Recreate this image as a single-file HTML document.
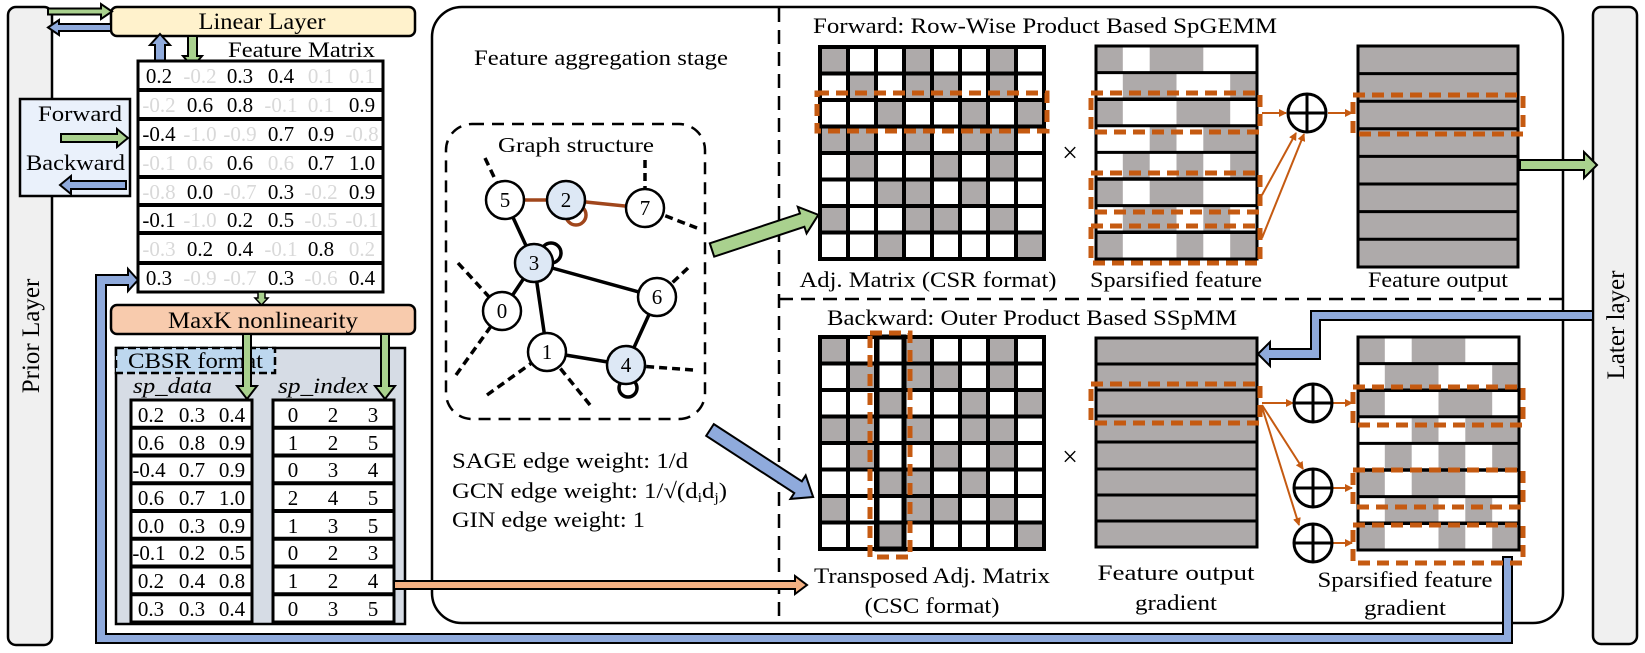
<!DOCTYPE html>
<html><head><meta charset="utf-8"><style>
html,body{margin:0;padding:0;background:#fff;}
svg{display:block;}
text{font-family:"Liberation Serif",serif;fill:#000;}
</style></head><body>
<svg width="1645" height="653" viewBox="0 0 1645 653" xmlns="http://www.w3.org/2000/svg">
<defs>
<marker id="oa" markerWidth="8" markerHeight="8" refX="7" refY="4" orient="auto" markerUnits="userSpaceOnUse" viewBox="0 0 8 8">
<path d="M0,0 L8,4 L0,8 z" fill="#c55a11"/></marker>
<g id="adj">
<g fill="#aeaaaa">
<rect x="820" y="47" width="28" height="26.5"/><rect x="904" y="47" width="28" height="26.5"/><rect x="988" y="47" width="28" height="26.5"/>
<rect x="848" y="73.5" width="28" height="26.5"/><rect x="904" y="73.5" width="56" height="26.5"/><rect x="988" y="73.5" width="28" height="26.5"/>
<rect x="876" y="100" width="28" height="26.5"/><rect x="960" y="100" width="28" height="26.5"/><rect x="1016" y="100" width="28" height="26.5"/>
<rect x="820" y="126.5" width="56" height="26.5"/><rect x="904" y="126.5" width="28" height="26.5"/><rect x="960" y="126.5" width="56" height="26.5"/>
<rect x="848" y="153" width="28" height="26.5"/><rect x="932" y="153" width="28" height="26.5"/><rect x="988" y="153" width="28" height="26.5"/>
<rect x="876" y="179.5" width="56" height="26.5"/><rect x="960" y="179.5" width="28" height="26.5"/>
<rect x="820" y="206" width="28" height="26.5"/><rect x="904" y="206" width="56" height="26.5"/><rect x="988" y="206" width="28" height="26.5"/>
<rect x="876" y="232.5" width="28" height="26.5"/><rect x="1016" y="232.5" width="28" height="26.5"/>
</g>
<g stroke="#000" stroke-width="4" fill="none">
<rect x="820" y="47" width="224" height="212"/>
<path d="M848,47V259M876,47V259M904,47V259M932,47V259M960,47V259M988,47V259M1016,47V259M820,73.5H1044M820,100H1044M820,126.5H1044M820,153H1044M820,179.5H1044M820,206H1044M820,232.5H1044"/>
</g>
</g>
<g id="sf">
<g fill="#aeaaaa">
<rect x="1096" y="46" width="26.8" height="26.6"/><rect x="1149.7" y="46" width="53.6" height="26.6"/>
<rect x="1122.8" y="72.6" width="53.7" height="26.6"/><rect x="1230.2" y="72.6" width="26.8" height="26.6"/>
<rect x="1096" y="99.2" width="26.8" height="26.6"/><rect x="1176.5" y="99.2" width="53.7" height="26.6"/>
<rect x="1149.7" y="125.8" width="26.8" height="26.6"/><rect x="1203.3" y="125.8" width="53.7" height="26.6"/>
<rect x="1122.8" y="152.4" width="26.9" height="26.6"/><rect x="1176.5" y="152.4" width="26.8" height="26.6"/><rect x="1230.2" y="152.4" width="26.8" height="26.6"/>
<rect x="1096" y="179" width="26.8" height="26.6"/><rect x="1149.7" y="179" width="53.6" height="26.6"/>
<rect x="1122.8" y="205.6" width="53.7" height="26.6"/><rect x="1203.3" y="205.6" width="26.9" height="26.6"/>
<rect x="1096" y="232.2" width="26.8" height="26.8"/><rect x="1176.5" y="232.2" width="26.8" height="26.8"/><rect x="1230.2" y="232.2" width="26.8" height="26.8"/>
</g>
<g stroke="#000" stroke-width="3" fill="none">
<rect x="1096" y="46" width="161" height="213"/>
<path d="M1096,72.6H1257M1096,125.8H1257M1096,152.4H1257M1096,205.6H1257"/>
<path d="M1096,99.2H1257M1096,179H1257M1096,232.2H1257" stroke-width="3.5"/>
</g>
</g>
</defs>

<rect x="8" y="7" width="44" height="638" rx="8" fill="#f0f0f0" stroke="#000" stroke-width="2.5"/>
<text transform="translate(39,336) rotate(-90)" font-size="25" text-anchor="middle">Prior Layer</text>
<rect x="1593" y="7" width="44" height="637" rx="8" fill="#f0f0f0" stroke="#000" stroke-width="2.5"/>
<text transform="translate(1624,325) rotate(-90)" font-size="25" text-anchor="middle">Later layer</text>

<rect x="432" y="7" width="1131" height="616" rx="30" fill="#fff" stroke="#000" stroke-width="2.5"/>
<path d="M779,8V622" stroke="#000" stroke-width="2.5" stroke-dasharray="14 8"/>
<path d="M779,299H1562" stroke="#000" stroke-width="2.5" stroke-dasharray="14 8"/>

<rect x="111" y="7" width="304" height="29" rx="6" fill="#fff2cc" stroke="#000" stroke-width="2.5"/>
<text x="262" y="29" font-size="23" text-anchor="middle" textLength="127" lengthAdjust="spacingAndGlyphs">Linear Layer</text>
<polygon points="48,8.5 101,8.5 101,4 112,11.5 101,19 101,14.5 48,14.5" fill="#a9d18e" stroke="#000" stroke-width="2"/>
<polygon points="48,27.5 59,20 59,24 111,24 111,31 59,31 59,35" fill="#8faadc" stroke="#000" stroke-width="2"/>
<polygon points="160,34 170,45 165,45 165,62 155,62 155,45 150,45" fill="#8faadc" stroke="#000" stroke-width="2"/>
<polygon points="188,36 197,36 197,56 202,56 192.5,67 183,56 188,56" fill="#a9d18e" stroke="#000" stroke-width="2"/>
<text x="228" y="57" font-size="22" textLength="147" lengthAdjust="spacingAndGlyphs">Feature Matrix</text>

<rect x="20" y="99" width="110" height="97" fill="#eaf1fb" stroke="#000" stroke-width="2.5"/>
<text x="38" y="121" font-size="22" textLength="84" lengthAdjust="spacingAndGlyphs">Forward</text>
<polygon points="61,134 117,134 117,129 128,138 117,147 117,142 61,142" fill="#a9d18e" stroke="#000" stroke-width="2"/>
<text x="26" y="170" font-size="22" textLength="99" lengthAdjust="spacingAndGlyphs">Backward</text>
<polygon points="60,185 71,176 71,181 126,181 126,189 71,189 71,194" fill="#8faadc" stroke="#000" stroke-width="2"/>

<rect x="138" y="61" width="245" height="231" fill="#fff" stroke="#000" stroke-width="3"/>
<path d="M138,90H383M138,119H383M138,148H383M138,177H383M138,205H383M138,233H383M138,263H383" stroke="#000" stroke-width="4"/>
<g font-size="21" text-anchor="middle">
<text y="83"><tspan x="159">0.2</tspan><tspan x="200" fill="#d9d9d9">-0.2</tspan><tspan x="240">0.3</tspan><tspan x="281">0.4</tspan><tspan x="321" fill="#d9d9d9">0.1</tspan><tspan x="362" fill="#d9d9d9">0.1</tspan></text>
<text y="112"><tspan x="159" fill="#d9d9d9">-0.2</tspan><tspan x="200">0.6</tspan><tspan x="240">0.8</tspan><tspan x="281" fill="#d9d9d9">-0.1</tspan><tspan x="321" fill="#d9d9d9">0.1</tspan><tspan x="362">0.9</tspan></text>
<text y="141"><tspan x="159">-0.4</tspan><tspan x="200" fill="#d9d9d9">-1.0</tspan><tspan x="240" fill="#d9d9d9">-0.9</tspan><tspan x="281">0.7</tspan><tspan x="321">0.9</tspan><tspan x="362" fill="#d9d9d9">-0.8</tspan></text>
<text y="170"><tspan x="159" fill="#d9d9d9">-0.1</tspan><tspan x="200" fill="#d9d9d9">0.6</tspan><tspan x="240">0.6</tspan><tspan x="281" fill="#d9d9d9">0.6</tspan><tspan x="321">0.7</tspan><tspan x="362">1.0</tspan></text>
<text y="199"><tspan x="159" fill="#d9d9d9">-0.8</tspan><tspan x="200">0.0</tspan><tspan x="240" fill="#d9d9d9">-0.7</tspan><tspan x="281">0.3</tspan><tspan x="321" fill="#d9d9d9">-0.2</tspan><tspan x="362">0.9</tspan></text>
<text y="227"><tspan x="159">-0.1</tspan><tspan x="200" fill="#d9d9d9">-1.0</tspan><tspan x="240">0.2</tspan><tspan x="281">0.5</tspan><tspan x="321" fill="#d9d9d9">-0.5</tspan><tspan x="362" fill="#d9d9d9">-0.1</tspan></text>
<text y="256"><tspan x="159" fill="#d9d9d9">-0.3</tspan><tspan x="200">0.2</tspan><tspan x="240">0.4</tspan><tspan x="281" fill="#d9d9d9">-0.1</tspan><tspan x="321">0.8</tspan><tspan x="362" fill="#d9d9d9">0.2</tspan></text>
<text y="285"><tspan x="159">0.3</tspan><tspan x="200" fill="#d9d9d9">-0.9</tspan><tspan x="240" fill="#d9d9d9">-0.7</tspan><tspan x="281">0.3</tspan><tspan x="321" fill="#d9d9d9">-0.6</tspan><tspan x="362">0.4</tspan></text>
</g>
<polygon points="258,292 265,292 265,298 268,298 261.5,305 255,298 258,298" fill="#a9d18e" stroke="#000" stroke-width="1.5"/>

<rect x="111" y="305" width="304" height="29" rx="6" fill="#f8cbad" stroke="#000" stroke-width="2.5"/>
<text x="263" y="328" font-size="23" text-anchor="middle" textLength="190" lengthAdjust="spacingAndGlyphs">MaxK nonlinearity</text>
<rect x="116" y="348" width="289" height="276" fill="#d6dce5" stroke="#000" stroke-width="2.5"/>
<rect x="116" y="348" width="159" height="25" fill="#bdd7ee" stroke="#000" stroke-width="2.5" stroke-dasharray="8 4"/>
<text x="128" y="368" font-size="22" textLength="135" lengthAdjust="spacingAndGlyphs">CBSR format</text>
<polygon points="243,334 251,334 251,386 257,386 247,399 237,386 243,386" fill="#a9d18e" stroke="#000" stroke-width="2"/>
<polygon points="381,334 389,334 389,386 395,386 385,399 375,386 381,386" fill="#a9d18e" stroke="#000" stroke-width="2"/>
<text x="133" y="393" font-size="22" font-style="italic" textLength="79" lengthAdjust="spacingAndGlyphs">sp_data</text>
<text x="278" y="393" font-size="22" font-style="italic" textLength="90" lengthAdjust="spacingAndGlyphs">sp_index</text>
<rect x="131" y="400" width="121" height="222" fill="#fff" stroke="#000" stroke-width="3"/>
<rect x="273" y="400" width="121" height="222" fill="#fff" stroke="#000" stroke-width="3"/>
<path d="M131,427.7H252M131,455.5H252M131,483.2H252M131,511H252M131,538.7H252M131,566.5H252M131,594.2H252M273,427.7H394M273,455.5H394M273,483.2H394M273,511H394M273,538.7H394M273,566.5H394M273,594.2H394" stroke="#000" stroke-width="4"/>
<g font-size="21" text-anchor="middle">
<text y="422"><tspan x="151">0.2</tspan><tspan x="192">0.3</tspan><tspan x="232">0.4</tspan><tspan x="293">0</tspan><tspan x="333">2</tspan><tspan x="373">3</tspan></text>
<text y="450"><tspan x="151">0.6</tspan><tspan x="192">0.8</tspan><tspan x="232">0.9</tspan><tspan x="293">1</tspan><tspan x="333">2</tspan><tspan x="373">5</tspan></text>
<text y="477"><tspan x="149">-0.4</tspan><tspan x="192">0.7</tspan><tspan x="232">0.9</tspan><tspan x="293">0</tspan><tspan x="333">3</tspan><tspan x="373">4</tspan></text>
<text y="505"><tspan x="151">0.6</tspan><tspan x="192">0.7</tspan><tspan x="232">1.0</tspan><tspan x="293">2</tspan><tspan x="333">4</tspan><tspan x="373">5</tspan></text>
<text y="533"><tspan x="151">0.0</tspan><tspan x="192">0.3</tspan><tspan x="232">0.9</tspan><tspan x="293">1</tspan><tspan x="333">3</tspan><tspan x="373">5</tspan></text>
<text y="560"><tspan x="149">-0.1</tspan><tspan x="192">0.2</tspan><tspan x="232">0.5</tspan><tspan x="293">0</tspan><tspan x="333">2</tspan><tspan x="373">3</tspan></text>
<text y="588"><tspan x="151">0.2</tspan><tspan x="192">0.4</tspan><tspan x="232">0.8</tspan><tspan x="293">1</tspan><tspan x="333">2</tspan><tspan x="373">4</tspan></text>
<text y="616"><tspan x="151">0.3</tspan><tspan x="192">0.3</tspan><tspan x="232">0.4</tspan><tspan x="293">0</tspan><tspan x="333">3</tspan><tspan x="373">5</tspan></text>
</g>
<polygon points="394,581 795,581 795,576 807,585 795,594 795,589 394,589" fill="#f4b183" stroke="#000" stroke-width="2"/>

<polygon points="138,280 128,269 128,275 96,275 96,643 1512,643 1512,557 1503,557 1503,634 106,634 106,285 128,285 128,291" fill="#8faadc" stroke="#000" stroke-width="2"/>
<polygon points="1258,354 1270,342 1270,349 1311,349 1311,311 1593,311 1593,320 1320,320 1320,359 1270,359 1270,366" fill="#8faadc" stroke="#000" stroke-width="2"/>

<text x="474" y="65" font-size="22" textLength="254" lengthAdjust="spacingAndGlyphs">Feature aggregation stage</text>
<rect x="446" y="124" width="259" height="295" rx="26" fill="none" stroke="#000" stroke-width="2.5" stroke-dasharray="12 8"/>
<text x="498" y="152" font-size="21" textLength="156" lengthAdjust="spacingAndGlyphs">Graph structure</text>
<g stroke="#000" stroke-width="3.5" stroke-dasharray="8 5" fill="none">
<path d="M485,158L505,200M645,160V208M697,228L645,208M458,263L502,311M456,375L502,311M688,268L657,297M693,370L626,365M487,395L547,352M590,405L547,352"/>
</g>
<g stroke="#000" stroke-width="3.5" fill="none">
<path d="M505,200L534,263M534,263L502,311M534,263L657,297M534,263L547,352M547,352L626,365M626,365L657,297"/>
<circle cx="551" cy="253" r="10"/>
<circle cx="628" cy="388" r="9"/>
</g>
<g stroke="#a0461c" stroke-width="3.5" fill="none">
<path d="M505,200L566,200L645,208"/>
<circle cx="576" cy="215" r="10"/>
</g>
<g stroke="#000" stroke-width="2.5" font-size="20" text-anchor="middle">
<circle cx="505" cy="200" r="19" fill="#fff"/>
<circle cx="566" cy="200" r="19" fill="#dde8f5"/>
<circle cx="645" cy="208" r="19" fill="#fff"/>
<circle cx="534" cy="263" r="19" fill="#dde8f5"/>
<circle cx="502" cy="311" r="19" fill="#fff"/>
<circle cx="657" cy="297" r="19" fill="#fff"/>
<circle cx="547" cy="352" r="19" fill="#fff"/>
<circle cx="626" cy="365" r="19" fill="#dde8f5"/>
</g>
<g font-size="21" text-anchor="middle">
<text x="505" y="207">5</text><text x="566" y="207">2</text><text x="645" y="215">7</text><text x="534" y="270">3</text>
<text x="502" y="318">0</text><text x="657" y="304">6</text><text x="547" y="359">1</text><text x="626" y="372">4</text>
</g>
<g font-size="22">
<text x="452" y="468" textLength="236" lengthAdjust="spacingAndGlyphs">SAGE edge weight: 1/d</text>
<text x="452" y="498" textLength="275" lengthAdjust="spacingAndGlyphs">GCN edge weight: 1/√(d<tspan font-size="14" dy="4">i</tspan><tspan dy="-4">d</tspan><tspan font-size="14" dy="4">j</tspan><tspan dy="-4">)</tspan></text>
<text x="452" y="527" textLength="193" lengthAdjust="spacingAndGlyphs">GIN edge weight: 1</text>
</g>
<polygon transform="translate(712,250) rotate(-18.3)" points="0,-7 95,-7 95,-14 112,0 95,14 95,7 0,7" fill="#a9d18e" stroke="#000" stroke-width="2"/>
<polygon transform="translate(710,430) rotate(33)" points="0,-7 105,-7 105,-14 123,0 105,14 105,7 0,7" fill="#8faadc" stroke="#000" stroke-width="2"/>

<text x="813" y="33" font-size="22" textLength="464" lengthAdjust="spacingAndGlyphs">Forward: Row-Wise Product Based SpGEMM</text>
<use href="#adj"/>
<rect x="817" y="93" width="230" height="38" fill="none" stroke="#c55a11" stroke-width="5" stroke-dasharray="12 7"/>
<text x="928" y="287" font-size="22" text-anchor="middle" textLength="257" lengthAdjust="spacingAndGlyphs">Adj. Matrix (CSR format)</text>
<text x="1070" y="162" font-size="28" text-anchor="middle">×</text>
<use href="#sf"/>
<g fill="none" stroke="#c55a11" stroke-width="5" stroke-dasharray="12 7">
<rect x="1091" y="93" width="169" height="39"/>
<rect x="1091" y="173" width="169" height="39"/>
<rect x="1091" y="226" width="169" height="37"/>
</g>
<text x="1176" y="287" font-size="22" text-anchor="middle" textLength="172" lengthAdjust="spacingAndGlyphs">Sparsified feature</text>
<rect x="1358" y="46" width="160" height="221" fill="#aeaaaa" stroke="#000" stroke-width="3"/>
<path d="M1358,73.6H1518M1358,101.2H1518M1358,128.8H1518M1358,156.4H1518M1358,184H1518M1358,211.6H1518M1358,239.2H1518" stroke="#000" stroke-width="3"/>
<rect x="1353" y="95" width="170" height="39" fill="none" stroke="#c55a11" stroke-width="5" stroke-dasharray="12 7"/>
<text x="1438" y="287" font-size="22" text-anchor="middle" textLength="140" lengthAdjust="spacingAndGlyphs">Feature output</text>
<g stroke="#c55a11" stroke-width="2" marker-end="url(#oa)">
<path d="M1262,113H1286"/><path d="M1262,195L1296,133"/><path d="M1262,238L1304,134"/><path d="M1328,113H1352"/>
</g>
<g stroke="#000" stroke-width="3" fill="#fff"><circle cx="1307" cy="113" r="19"/><path d="M1288,113H1326M1307,94V132"/></g>
<polygon points="1520,160 1584,160 1584,152 1597,165 1584,178 1584,170 1520,170" fill="#a9d18e" stroke="#000" stroke-width="2"/>

<text x="827" y="325" font-size="22" textLength="410" lengthAdjust="spacingAndGlyphs">Backward: Outer Product Based SSpMM</text>
<use href="#adj" transform="translate(0,290)"/>
<rect x="877" y="337" width="27" height="212" fill="none" stroke="#000" stroke-width="5"/>
<rect x="870" y="333" width="40" height="224" fill="none" stroke="#c55a11" stroke-width="5" stroke-dasharray="12 7"/>
<text x="932" y="583" font-size="22" text-anchor="middle" textLength="236" lengthAdjust="spacingAndGlyphs">Transposed Adj. Matrix</text>
<text x="932" y="613" font-size="22" text-anchor="middle" textLength="135" lengthAdjust="spacingAndGlyphs">(CSC format)</text>
<text x="1070" y="466" font-size="28" text-anchor="middle">×</text>
<rect x="1096" y="338" width="161" height="209" fill="#aeaaaa" stroke="#000" stroke-width="3"/>
<path d="M1096,364H1257M1096,390H1257M1096,416H1257M1096,442H1257M1096,469H1257M1096,495H1257M1096,521H1257" stroke="#000" stroke-width="3"/>
<rect x="1091" y="384" width="169" height="39" fill="none" stroke="#c55a11" stroke-width="5" stroke-dasharray="12 7"/>
<text x="1176" y="580" font-size="22" text-anchor="middle" textLength="157" lengthAdjust="spacingAndGlyphs">Feature output</text>
<text x="1176" y="610" font-size="22" text-anchor="middle" textLength="82" lengthAdjust="spacingAndGlyphs">gradient</text>
<use href="#sf" transform="translate(262,291)"/>
<g fill="none" stroke="#c55a11" stroke-width="5" stroke-dasharray="12 7">
<rect x="1353" y="387" width="170" height="38"/>
<rect x="1353" y="470" width="170" height="37"/>
<rect x="1353" y="525" width="170" height="38"/>
</g>
<text x="1405" y="587" font-size="22" text-anchor="middle" textLength="175" lengthAdjust="spacingAndGlyphs">Sparsified feature</text>
<text x="1405" y="615" font-size="22" text-anchor="middle" textLength="82" lengthAdjust="spacingAndGlyphs">gradient</text>
<g stroke="#c55a11" stroke-width="2" marker-end="url(#oa)">
<path d="M1262,403H1293"/><path d="M1262,405L1303,469"/><path d="M1262,407L1299,525"/>
<path d="M1333,403H1352"/><path d="M1333,488H1352"/><path d="M1333,543H1352"/>
</g>
<g stroke="#000" stroke-width="3" fill="#fff">
<circle cx="1313" cy="403" r="19"/><path d="M1294,403H1332M1313,384V422"/>
<circle cx="1313" cy="488" r="19"/><path d="M1294,488H1332M1313,469V507"/>
<circle cx="1313" cy="543" r="19"/><path d="M1294,543H1332M1313,524V562"/>
</g>
</svg>
</body></html>
